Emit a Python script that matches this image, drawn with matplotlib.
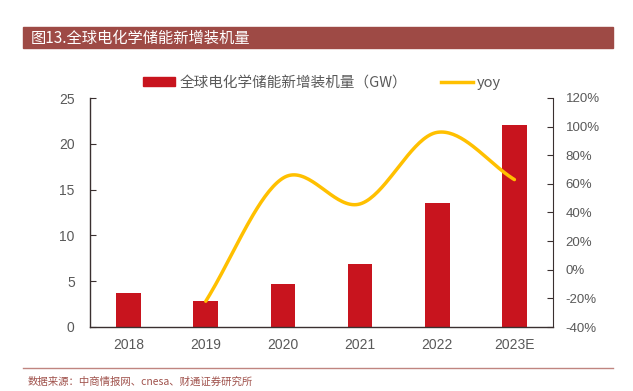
import numpy as np
import matplotlib
matplotlib.use("Agg")
import matplotlib.pyplot as plt
from matplotlib.lines import Line2D
from matplotlib.patches import Patch, Rectangle

plt.rcParams['font.family'] = ['Noto Sans CJK SC', 'DejaVu Sans']

categories = ["2018", "2019", "2020", "2021", "2022", "2023E"]
capacity_gw = [3.7, 2.85, 4.7, 6.9, 13.5, 22.0]
yoy_years = ["2019", "2020", "2021", "2022", "2023E"]
yoy_pct = [-22, 64, 46, 96, 63]
left_ticks = [0, 5, 10, 15, 20, 25]
right_ticks = [-40, -20, 0, 20, 40, 60, 80, 100, 120]

W, H = 633, 391
fig = plt.figure(figsize=(W / 100, H / 100), dpi=100)

# title bar
fig.patches.append(Rectangle((23 / W, 1 - 48 / H), (613 - 23) / W, 21 / H,
                             transform=fig.transFigure, color="#9E4A45", zorder=0))
fig.text(31 / W, 1 - 38 / H, "图13.全球电化学储能新增装机量", color="white",
         fontsize=11, va="center", ha="left")
# footer line and source
fig.add_artist(Line2D([23 / W, 613 / W], [1 - 368 / H, 1 - 368 / H],
                      transform=fig.transFigure, color="#C08580", lw=1))
fig.text(28 / W, 1 - 382 / H, "数据来源：中商情报网、cnesa、财通证券研究所",
         color="#A0524C", fontsize=7.5, va="center", ha="left")

ax = fig.add_axes([90 / W, 1 - 327 / H, (553 - 90) / W, (327 - 98) / H])
x = np.arange(len(categories))
ax.bar(x, capacity_gw, width=0.32, color="#C8141E", zorder=2)
ax.set_xlim(-0.5, len(categories) - 0.5)
ax.set_ylim(0, 25)
ax.set_yticks(left_ticks)
ax.set_xticks(x)
ax.set_xticklabels(categories)
for s in ["top", "right"]:
    ax.spines[s].set_visible(False)
for s in ["left", "bottom"]:
    ax.spines[s].set_color("#3a3030")
    ax.spines[s].set_linewidth(1)
ax.tick_params(axis="y", direction="in", length=4, colors="#3a3030",
               labelcolor="#595959", labelsize=10, pad=11)
ax.tick_params(axis="x", length=0, labelcolor="#595959", labelsize=10, pad=8)
for lab in ax.get_xticklabels() + ax.get_yticklabels():
    lab.set_family(["Liberation Sans", "DejaVu Sans"])

ax2 = ax.twinx()
ax2.set_ylim(-40, 120)
ax2.set_yticks(right_ticks)
ax2.set_yticklabels([f"{v}%" for v in right_ticks])
for s in ["top", "left", "bottom"]:
    ax2.spines[s].set_visible(False)
ax2.spines["right"].set_color("#3a3030")
ax2.tick_params(axis="y", direction="in", length=4, colors="#3a3030",
                labelcolor="#595959", labelsize=9.5, pad=9)
for lab in ax2.get_yticklabels():
    lab.set_family(["Liberation Sans", "DejaVu Sans"])

# smooth curve through yoy points (Catmull-Rom rendering)
px = np.array([categories.index(c) for c in yoy_years], dtype=float)
py = np.array(yoy_pct, dtype=float)
P = np.column_stack([px, py])
Pe = np.vstack([2 * P[0] - P[1], P, 2 * P[-1] - P[-2]])
cx, cy = [], []
t = np.linspace(0, 1, 40)
for i in range(1, len(Pe) - 2):
    p0, p1, p2, p3 = Pe[i - 1], Pe[i], Pe[i + 1], Pe[i + 2]
    seg = 0.5 * ((2 * p1)[None, :] + (-p0 + p2)[None, :] * t[:, None]
                 + (2 * p0 - 5 * p1 + 4 * p2 - p3)[None, :] * t[:, None] ** 2
                 + (-p0 + 3 * p1 - 3 * p2 + p3)[None, :] * t[:, None] ** 3)
    cx.extend(seg[:, 0]); cy.extend(seg[:, 1])
ax2.plot(cx, cy, color="#FFC000", lw=2.5, zorder=3, solid_capstyle="round")

handles = [Patch(color="#C8141E"), Line2D([], [], color="#FFC000", lw=2.5)]
fig.legend(handles, ["全球电化学储能新增装机量（GW）", "yoy"],
           loc="center", bbox_to_anchor=(322 / W, 1 - 83 / H), ncol=2,
           frameon=False, fontsize=10.5, labelcolor="#595959",
           handlelength=2.2, handleheight=0.6, columnspacing=2.3, handletextpad=0.3)

fig.savefig("out.png", dpi=100, facecolor="white")
